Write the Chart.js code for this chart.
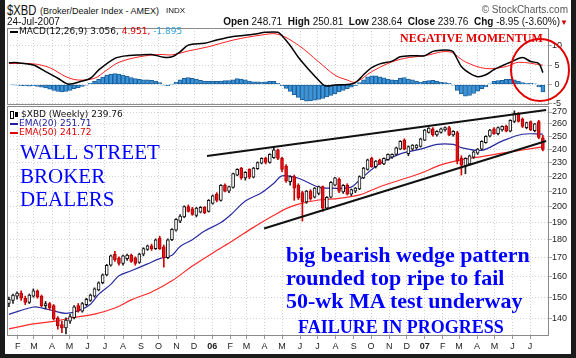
<!DOCTYPE html>
<html>
<head>
<meta charset="utf-8">
<script src="https://cdn.jsdelivr.net/npm/chart.js@4.4.1/dist/chart.umd.min.js"></script>
<style>
html,body{margin:0;padding:0;background:#fff;}
#wrap{position:relative;width:576px;height:358px;overflow:hidden;background:#fff;font-family:"Liberation Sans",Arial,sans-serif;color:#111;}
.t{position:absolute;white-space:nowrap;}
canvas{position:absolute;left:0;}
.serif{font-family:"Liberation Serif","Times New Roman",serif;color:#0000ff;}
.lg{font-family:"DejaVu Sans",Verdana,sans-serif;font-size:9px;line-height:9px;}
.dash{display:inline-block;width:8px;height:2px;vertical-align:middle;margin-right:1px;}
</style>
</head>
<body>
<div id="wrap">
  <canvas id="macd" width="576" height="100" style="top:20px"></canvas>
  <canvas id="price" width="576" height="256" style="top:100px"></canvas>

  <div class="t" style="left:7px;top:2px;font-size:14px;line-height:16px;transform:scaleX(0.8);transform-origin:0 0;">$XBD</div>
  <div class="t" style="left:40px;top:5px;font-size:9px;line-height:12px;">(Broker/Dealer Index - AMEX)</div>
  <div class="t" style="left:166px;top:6px;font-size:8px;line-height:10px;">INDX</div>
  <div class="t" style="left:7px;top:16px;font-size:10px;line-height:12px;">24-Jul-2007</div>
  <div class="t" style="right:8px;top:4px;font-size:10px;line-height:12px;color:#555;">&copy; StockCharts.com</div>
  <div class="t" style="right:8px;top:16px;font-size:10px;line-height:12px;"><b>Open</b> 248.71 &nbsp;<b>High</b> 250.81 &nbsp;<b>Low</b> 238.64 &nbsp;<b>Close</b> 239.76 &nbsp;<b>Chg</b> -8.95 (-3.60%)<span style="color:#d00000;font-size:8px;">&#9660;</span></div>

  <div class="t lg" style="left:10px;top:27px;"><span class="dash" style="background:#000"></span>MACD(12,26,9) 3.056, <span style="color:#e00000">4.951,</span> <span style="color:#33a3e0">-1.895</span></div>

  <div class="t lg" style="left:10px;top:110px;"><span style="display:inline-block;width:2px;height:6px;border:1px solid #000;vertical-align:middle;"></span><span style="display:inline-block;width:3px;height:5px;background:#000;margin-left:1px;margin-right:3px;vertical-align:middle;"></span>$XBD (Weekly) 239.76</div>
  <div class="t lg" style="left:10px;top:119px;color:#2020a0;"><span class="dash" style="background:#2020a0"></span>EMA(20) 251.71</div>
  <div class="t lg" style="left:10px;top:128px;color:#e00000;"><span class="dash" style="background:#e00000"></span>EMA(50) 241.72</div>

  <div class="t" style="left:400px;top:31px;font-family:'Liberation Serif',serif;font-weight:bold;font-size:12px;line-height:14px;color:#e00000;">NEGATIVE MOMENTUM</div>

  <div class="t serif" style="left:20px;top:141px;font-size:21px;line-height:23.5px;">WALL STREET<br>BROKER<br>DEALERS</div>
  <div class="t serif" style="left:286px;top:243px;font-size:22px;line-height:23px;font-weight:bold;">big bearish wedge pattern<br>rounded top ripe to fail<br>50-wk MA test underway</div>
  <div class="t serif" style="left:298px;top:317px;font-size:18px;line-height:20px;font-weight:bold;">FAILURE IN PROGRESS</div>

  <svg class="t" style="left:0;top:0;" width="576" height="358"><ellipse cx="540" cy="70" rx="29" ry="31" fill="none" stroke="#e00000" stroke-width="2"/></svg>
  <div style="position:absolute;left:0;top:0;width:576px;height:358px;box-sizing:border-box;border-left:5px solid #1b1b1b;border-right:5px solid #1b1b1b;border-bottom:4px solid #1b1b1b;"></div>
</div>

<script>
// ================= DATA =================
// weekly candles, week 0 = week of 17-Jan-2005 ... week 131 = week of 23-Jul-2007
const opens = [147,148.5,150.5,152,149.5,147.5,150.5,153,150.5,146,
147,146,140.5,137.5,136,139,140.5,146,143.5,146.5,
148.5,150.5,153.5,157,161,166,172,170,167,169.5,
171.5,170,167.5,172,174.5,176.5,175,181,176,170,
180,185.5,191,193.5,200,198.5,194.5,196.5,199.5,197,
202,208,204,214,210,212.5,221,226,219,225,
219.5,225.5,229.5,233,230,233.5,239.5,233,227.5,216.5,
220,214,209,203,210,206,208.5,213,199,206,
214,218,209.5,214,208,210,211.5,219,225,233,
227,232,229,232,234,236,240,247,236.5,240,
241,242,247,253,256,251,253,255,257,251,
253,233,227,229,234,237,240,245,250,256,
252,255,258,254,262,268,264,257,262,254.5,
262,248.71];
const highs = [150,151.5,152.5,153,150.5,151.5,154,153.5,151,148,
147.5,146.5,141,139,140.5,142,146,147,147.5,149.5,
151.5,154.5,157.5,161.5,166.5,171.5,173.5,170.5,171.5,172,
172,170.5,172.5,175.5,177,177.5,180.5,182,177,180.5,
186.5,192.5,195,200.5,201,199.5,199.5,200,200,204.5,
207.5,209,214.5,215,213.5,222.5,225.5,226.5,223.5,225.5,
226.5,230.5,233.5,234,236.5,241,240,234,228.5,220.5,
221,215,210,210.5,211,212.5,213.5,213.5,206.5,216.5,
219.5,219,214.5,215,211.5,212.5,220.5,226.5,232.5,234,
231.5,232.5,233.5,236.5,236.5,241.5,246.5,248,242.5,243.5,
243.5,248.5,255.5,257,257,254.5,256.5,257.5,258,254.5,
254,235,233.5,235.5,238.5,240.5,246.5,250.5,255.5,257,
257.5,258.5,259,263.5,271,269.5,265,261.5,262.5,260.5,
263,250.81];
const lows = [145.5,147,149,148.5,146.5,147,150,149.5,145.5,144.5,
144,139.5,135.5,134,133.5,138,140,143,143,146,
148,150,153,156.5,160.5,165.5,168,166,166,168.5,
167.5,166,167,171,174,174,174.5,174.5,165,169.5,
179.5,185,190,193,196.5,194.5,193.5,196,195.5,196.5,
201.5,203,203.5,209.5,209,212,220.5,218,217.5,218.5,
219,225,229,229,229.5,233,232,223.5,216,214,
204,204.5,191,202,204,205.5,207.5,197,198,205.5,
213.5,209,208.5,207.5,207,209,211,218.5,224.5,226.5,
226,228.5,228.5,231.5,233,235.5,239.5,239.5,235,239,
240,241.5,246.5,252.5,250,250,252.5,254,250.5,250,
229,221,222,228,233,236,239.5,244.5,249.5,251.5,
251,254,253.5,253.5,261,261.5,257,256,254.5,253.5,
248,238.64];
const closes = [149,151,152,149.5,147.5,151,153,150,146,147,
145,140,137,136,139.5,141,145.5,143.5,147,149,
151,154,157,161,166,171,169,167,171,171.5,
168,167,172,175,176.5,175,180,175,170,180,
186,192,194,200,197,195,199,199.5,196,204,
207,204,214,210,213,222,225,219,223,219.5,
226,230,233,230,236,239.5,233,225,217,220,
212,205.5,203,210,205,212,213,199,206,216,
219,210,214,208,211,212,220,226,232,227,
231,229,233,236,236,241,246,240,242,243,
243,248,255,256.5,251,254,256,257,251,254,
231,228,233,235,238,240,246,250,255,252,
257,258,254,263,269,262,258,261,255,260,
249,239.76];

// moving averages (week index, value)
const ema20Weeks = [0,6,8,11,14,17,20,22,25,27,30,34,37,40,42,45,48,52,55,58,62,65,67,71,76,79,84,86,91,96,101,105,109,111,116,121,126,131];
const ema20 = [142.0,145.4,145.0,143.6,142.5,143.6,146.7,151.3,156.2,160.5,163.1,166.7,169.5,171.3,176.2,180.0,185.0,190.1,196.2,203.6,209.0,215.4,220.4,218.8,212.7,212.0,212.7,217.6,229.2,236.4,240.0,243.6,243.6,241.1,239.1,246.2,251.6,251.71];
const ema50Weeks = [0,6,11,16,21,26,30,35,40,45,50,55,60,65,68,71,76,81,86,91,96,101,106,111,116,121,126,131];
const ema50 = [135.6,137.8,138.9,140.7,142.1,144.9,148.7,152.5,158.0,165.6,172.6,179.6,187.2,194.5,198.7,201.5,204.2,205.3,207.5,213.0,217.6,222.3,228.3,232.0,234.4,236.9,239.3,241.72];

// MACD(12,26,9)
const macdWeeks = [0,2,6,9,12,14,15,17,20,22,26,29,32,35,38,40,42,44,48,51,55,60,63,66,67,69,71,73,75,77,78,80,83,85,87,89,91,94,96,99,102,104,106,108,109,111,113,115,117,119,121,123,126,128,130,131];
const macdLine = [5.6,5.6,5.0,3.3,1.6,0.3,0.1,0.6,1.6,3.7,6.7,7.4,7.6,7.7,7.0,7.1,8.4,10.1,10.6,11.4,12.3,12.9,13.4,13.4,12.5,10.0,7.0,4.5,2.2,0.0,-0.4,-0.1,0.0,0.5,2.5,4.3,5.3,6.0,7.1,7.4,7.4,8.5,8.8,8.8,8.4,4.6,2.9,2.0,2.5,3.8,4.8,5.7,6.9,5.9,5.4,3.056];
const signalWeeks = [0,6,10,14,17,21,24,27,32,37,40,44,49,55,62,66,71,76,80,83,85,89,93,97,102,108,112,117,122,125,131];
const signalLine = [5.4,5.3,4.3,2.0,1.15,1.6,3.7,5.7,7.1,7.7,7.6,8.6,9.7,11.4,12.7,12.9,10.1,5.8,2.4,1.15,0.6,3.3,5.4,6.7,7.4,8.4,5.8,4.1,4.6,5.7,4.951];
const histogram = [0.0,-0.1,-0.2,-0.3,-0.3,-0.4,-0.3,-0.5,-0.7,-0.9,
-1.2,-1.5,-1.8,-1.9,-1.8,-1.5,-1.1,-0.8,-0.5,-0.2,
0.3,0.8,1.3,1.9,2.4,2.6,2.8,2.7,2.4,2.1,
1.8,1.5,1.3,1.2,1.2,1.1,0.9,0.5,-0.2,-0.3,
0.1,0.6,1.2,1.6,1.8,1.6,1.4,1.1,0.9,0.8,
0.9,0.8,0.9,1.0,1.0,1.2,1.5,1.4,1.2,0.9,
0.7,0.7,0.6,0.7,0.8,0.8,0.3,-0.3,-1.0,-1.8,
-2.6,-3.3,-3.9,-4.3,-4.2,-4.0,-3.8,-3.6,-3.2,-2.8,
-2.4,-1.9,-1.5,-1.1,-0.7,-0.3,0.5,1.2,2.0,2.2,
2.2,2.0,1.7,1.4,1.2,1.1,1.6,1.8,1.4,1.2,
0.9,0.6,0.8,1.0,1.1,0.9,0.6,0.5,0.3,-0.2,
-1.5,-2.4,-3.0,-2.8,-2.3,-1.7,-1.1,-0.6,0.2,0.8,
1.0,1.1,1.3,1.3,1.2,0.9,0.5,0.3,0.3,0.2,
-0.6,-1.895];

// wedge trend lines (week index, price)
const upperWedgeWeeks = [48.6,131.8];
const upperWedgePrices = [234.8,271.8];
const lowerWedgeWeeks = [62.6,131.8];
const lowerWedgePrices = [186.5,246.2];

// axis labels / ticks
const monthLabels = ['F','M','A','M','J','J','A','S','O','N','D','06','F','M','A','M','J','J','A','S','O','N','D','07','F','M','A','M','J','J'];
const priceTicks = [140,150,160,170,180,190,200,210,220,230,240,250,260,270];
const macdTicks = [-5,0,5,10];

// ================= CHARTS =================
const DAYMS = 864e5;
const firstWeek = Date.UTC(2005,0,17);
const monthTickValues = monthLabels.map((_, k) => (Date.UTC(2005, 1 + k, 1) - firstWeek) / (7 * DAYMS));
const xMin = -0.47, xMax = 132.5;
const GRID = '#d2d2d2';

Chart.defaults.font.family = "'Liberation Sans', Arial, sans-serif";

const framePlugin = {
  id: 'frame',
  afterDraw(chart) {
    const { ctx, chartArea: a } = chart;
    ctx.save();
    ctx.strokeStyle = '#8a8a8a';
    ctx.lineWidth = 1;
    ctx.strokeRect(Math.round(a.left) + 0.5, Math.round(a.top) + 0.5, Math.round(a.right - a.left) - 1, Math.round(a.bottom - a.top) - 1);
    ctx.restore();
  }
};

const wedgePlugin = {
  id: 'wedge',
  afterDatasetsDraw(chart) {
    const { ctx, scales: { x, y } } = chart;
    ctx.save();
    ctx.strokeStyle = '#111';
    ctx.lineWidth = 2;
    [[upperWedgeWeeks, upperWedgePrices], [lowerWedgeWeeks, lowerWedgePrices]].forEach(([w, p]) => {
      ctx.beginPath();
      ctx.moveTo(x.getPixelForValue(w[0]), y.getPixelForValue(p[0]));
      ctx.lineTo(x.getPixelForValue(w[1]), y.getPixelForValue(p[1]));
      ctx.stroke();
    });
    ctx.restore();
  }
};

const baseOpts = {
  responsive: false, animation: false, devicePixelRatio: 1, events: [],
  plugins: { legend: { display: false }, tooltip: { enabled: false } }
};

function xScale(showLabels) {
  return {
    type: 'linear', min: xMin, max: xMax, offset: false,
    grid: { offset: false, color: GRID, drawTicks: showLabels, tickLength: 3, tickColor: '#999' },
    border: { display: false, dash: [1, 2] },
    afterBuildTicks: s => { s.ticks = monthTickValues.map(v => ({ value: v })); },
    afterFit: s => { s.height = showLabels ? 16 : 0; },
    ticks: {
      display: showLabels, autoSkip: false, maxRotation: 0, minRotation: 0, padding: 2, color: '#222',
      font: c => ({ size: 9, weight: /\d/.test(monthLabels[c.index] || '') ? 'bold' : 'normal' }),
      callback: (v, i) => monthLabels[i]
    }
  };
}

const up = opens.map((o, i) => closes[i] >= o);

new Chart(document.getElementById('price'), {
  type: 'bar',
  data: {
    datasets: [
      { type: 'bar', data: opens.map((o, i) => ({ x: i, y: [o, closes[i]] })), barThickness: 3, borderWidth: 1, borderSkipped: false,
        backgroundColor: up.map(u => u ? '#ffffff' : '#e5131a'), borderColor: up.map(u => u ? '#111111' : '#b50000'), grouped: false, order: 0 },
      { type: 'bar', data: opens.map((o, i) => ({ x: i, y: [lows[i], highs[i]] })), barThickness: 1, borderWidth: 0,
        backgroundColor: up.map(u => u ? '#222222' : '#d40000'), grouped: false, order: 1 },
      { type: 'line', data: ema20Weeks.map((w, k) => ({ x: w, y: ema20[k] })), borderColor: '#2a2aa0', borderWidth: 1.2, pointRadius: 0, tension: 0.35, order: 2 },
      { type: 'line', data: ema50Weeks.map((w, k) => ({ x: w, y: ema50[k] })), borderColor: '#ff2b2b', borderWidth: 1.2, pointRadius: 0, tension: 0.35, order: 3 }
    ]
  },
  options: Object.assign({}, baseOpts, {
    layout: { padding: { left: 7, right: 0, top: 6, bottom: 4 } },
    scales: {
      x: xScale(true),
      y: {
        type: 'logarithmic', position: 'right', min: 132.6, max: 275.2,
        afterBuildTicks: s => { s.ticks = priceTicks.map(v => ({ value: v })); },
        afterFit: s => { s.width = 27; },
        grid: { color: GRID, tickLength: 3, tickColor: '#aaa' },
        border: { display: false, dash: [1, 2] },
        ticks: { padding: 0, crossAlign: 'near', color: '#222', font: { size: 9 }, callback: v => String(v) }
      }
    }
  }),
  plugins: [framePlugin, wedgePlugin]
});

new Chart(document.getElementById('macd'), {
  type: 'bar',
  data: {
    datasets: [
      { type: 'line', data: macdWeeks.map((w, k) => ({ x: w, y: macdLine[k] })), borderColor: '#000', borderWidth: 1.5, pointRadius: 0, tension: 0.3, order: 0 },
      { type: 'line', data: signalWeeks.map((w, k) => ({ x: w, y: signalLine[k] })), borderColor: '#ff2020', borderWidth: 1, pointRadius: 0, tension: 0.35, order: 1 },
      { type: 'bar', data: histogram.map((v, i) => ({ x: i, y: v })), barThickness: 4, borderWidth: 1, borderSkipped: false,
        backgroundColor: '#3b95d8', borderColor: '#1b5f9c', grouped: false, order: 2 }
    ]
  },
  options: Object.assign({}, baseOpts, {
    layout: { padding: { left: 7, right: 0, top: 8, bottom: 15 } },
    scales: {
      x: xScale(false),
      y: {
        type: 'linear', position: 'right', min: -5.26, max: 14.5,
        afterBuildTicks: s => { s.ticks = macdTicks.map(v => ({ value: v })); },
        afterFit: s => { s.width = 27; },
        grid: { color: GRID, tickLength: 3, tickColor: '#aaa' },
        border: { display: false, dash: [1, 2] },
        ticks: { padding: 0, crossAlign: 'center', color: '#222', font: { size: 9 }, callback: v => String(v) }
      }
    }
  }),
  plugins: [framePlugin]
});
</script>
</body>
</html>
